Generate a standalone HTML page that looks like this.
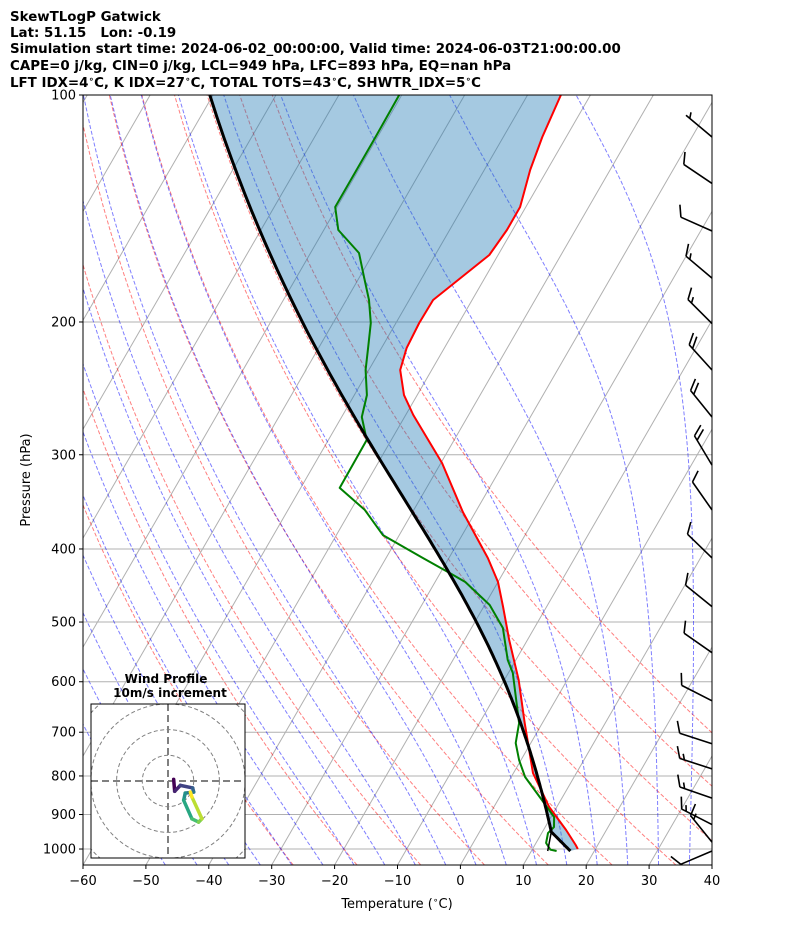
<!DOCTYPE html>
<html><head><meta charset="utf-8">
<style>
body{margin:0;background:#fff;}
svg{display:block;font-family:"DejaVu Sans","Liberation Sans",sans-serif;}
</style></head>
<body>
<svg id="chart" width="794" height="937" viewBox="0 0 794 937" xmlns="http://www.w3.org/2000/svg">
<defs><clipPath id="plotclip"><rect x="83" y="95" width="629" height="770"/></clipPath>
<clipPath id="hodoclip"><rect x="91" y="704" width="154" height="154"/></clipPath></defs>
<g font-weight="bold" font-size="13.4" fill="#000" style="white-space:pre">
<text x="10" y="21">SkewTLogP Gatwick</text>
<text x="10" y="37" xml:space="preserve">Lat: 51.15   Lon: -0.19</text>
<text x="10" y="53">Simulation start time: 2024-06-02_00:00:00, Valid time: 2024-06-03T21:00:00.00</text>
<text x="10" y="70">CAPE=0 j/kg, CIN=0 j/kg, LCL=949 hPa, LFC=893 hPa, EQ=nan hPa</text>
<text x="10" y="87">LFT IDX=4<tspan dy="-5" font-size="9">∘</tspan><tspan dy="5">C, K IDX=27</tspan><tspan dy="-5" font-size="9">∘</tspan><tspan dy="5">C, TOTAL TOTS=43</tspan><tspan dy="-5" font-size="9">∘</tspan><tspan dy="5">C, SHWTR_IDX=5</tspan><tspan dy="-5" font-size="9">∘</tspan><tspan dy="5">C</tspan></text>
</g>
<g id="bg" clip-path="url(#plotclip)"></g>
<g id="profiles" clip-path="url(#plotclip)"></g>
<g id="barbs"></g>
<rect x="83" y="95" width="629" height="770" fill="none" stroke="#000" stroke-width="1"/>
<g id="axes"></g>
<text x="397" y="908" font-size="13" text-anchor="middle">Temperature (<tspan dy="-5" font-size="9">∘</tspan><tspan dy="5">C)</tspan></text>
<text transform="translate(30,480) rotate(-90)" font-size="13" text-anchor="middle">Pressure (hPa)</text>
<g id="hodo"></g>
</svg>
<script>
// ---- data ----
const tempP=[100,113.7,125.7,140.8,151,163,187,200.6,216.6,231.6,250,265.7,307.7,357.4,411.3,442.4,477.5,528.2,597,680.7,793,879.7,943.6,987.9,1000];
const tempT=[-54.7,-53.8,-52.7,-50.9,-50.9,-51.4,-56.2,-56.3,-56,-55,-52.1,-48.8,-39.8,-32,-23.8,-20,-16.9,-12.9,-7.7,-2.8,3.1,8.8,13.6,16.5,17.2];
const dewP=[100,114.7,140.8,151,162,174.3,187,200.6,215.9,231.6,250,267.3,286.8,332,355,383.4,411.3,430.5,442.4,474.7,509.2,561.3,584.1,680.7,723.5,762.1,802.5,861,907,935,952.4,981.8,1002,1006];
const dewT=[-80.4,-80.3,-80.3,-77.7,-72.3,-69.3,-66.4,-64,-62.2,-60.5,-58,-56.8,-53.9,-53.8,-47.8,-42.6,-34.1,-28.5,-25.2,-19.2,-15,-11.3,-9.3,-3.7,-2.4,-0.3,2.2,7,10.5,11.4,11,11.6,12.9,14];
const sfcP=1006, sfcT=16.2, sfcTd=12.6, lclP=949;
const barbP=[113.7,131,151.5,174.9,201,231.6,267.3,309.6,355,411,477,549,636,725,783,856,928,979,1006];
const barbDir=[310,304,294,310,315,318,321,329,325,314,309,305,297,288,288,289,297,321,247];
const barbSpd=[5,10,10,15,15,20,20,20,10,10,10,10,10,10,15,15,15,15,10];
const hodoU=[2.2,2.6,4.8,9.6,10.0,6.7,6.1,9.3,11.9,13.2,9.3,8.7];
const hodoV=[0.65,-4.0,-1.7,-2.7,-4.3,-4.7,-7.5,-14.7,-16.0,-14.7,-6.2,-4.3];
const xTicks=[-60,-50,-40,-30,-20,-10,0,10,20,30,40];
const yTicks=[100,200,300,400,500,600,700,800,900,1000];
const dryT0=[-30,-20,-10,0,10,20,30,40,50,60];
const moistT0=[-50,-45,-40,-35,-30,-25,-20,-15,-10,-5,0,5,10,15,20,25,30,35,40,45];
// ---- axes ----
const X0=83,X1=712,Y0=95,YB=865,PTOP=100,PBOT=1050,TMIN=-60,TMAX=40,SK=Math.tan(30*Math.PI/180);
const NS='http://www.w3.org/2000/svg';
function yP(p){return Y0+(YB-Y0)*Math.log10(p/PTOP)/Math.log10(PBOT/PTOP);}
function xT(T,p){return X0+(T-TMIN)*(X1-X0)/(TMAX-TMIN)+SK*(YB-yP(p));}
function mk(tag,attrs,parent){const e=document.createElementNS(NS,tag);for(const k in attrs)e.setAttribute(k,attrs[k]);parent.appendChild(e);return e;}
function pts(arrP,arrT){return arrP.map((p,i)=>xT(arrT[i],p).toFixed(1)+','+yP(p).toFixed(1)).join(' ');}
// thermo
const Rd=287.04,Cp=1005.7,Lv=2.501e6,EPS=0.622;
function es(Tk){const t=Tk-273.15;return 6.112*Math.exp(17.67*t/(t+243.5));}
function dTdp(p,T){const e=es(T);const rs=EPS*e/(p-e);return (Rd*T+Lv*rs)/(p*(Cp+Lv*Lv*rs*EPS/(Rd*T*T)));}
function moist(p0,T0c,p1,n){let T=T0c+273.15,p=p0;const h=(p1-p0)/n;const P=[p],Ts=[T0c];
 for(let i=0;i<n;i++){const k1=dTdp(p,T),k2=dTdp(p+h/2,T+h/2*k1),k3=dTdp(p+h/2,T+h/2*k2),k4=dTdp(p+h,T+h*k3);T+=h/6*(k1+2*k2+2*k3+k4);p+=h;P.push(p);Ts.push(T-273.15);}return [P,Ts];}
const bg=document.getElementById('bg');
yTicks.forEach(p=>{const l=mk('line',{x1:X0,x2:X1,y1:yP(p),y2:yP(p),stroke:'#b0b0b0','stroke-width':1},bg);

});
for(let T=-200;T<=40;T+=10){const l=mk('line',{x1:xT(T,PBOT),y1:YB,x2:xT(T,PTOP),y2:Y0,stroke:'#b0b0b0','stroke-width':1},bg);

}
dryT0.forEach(t0=>{const P=[],T=[];for(let p=PBOT;p>=PTOP-0.1;p-=10){P.push(p);T.push((t0+273.15)*Math.pow(p/1000,0.2857)-273.15);}
const l=mk('polyline',{points:pts(P,T),fill:'none',stroke:'rgba(255,0,0,0.5)','stroke-width':1,'stroke-dasharray':'4 2'},bg);

});
moistT0.forEach(t0=>{const up=moist(1000,t0,PTOP,90),dn=moist(1000,t0,PBOT,5);
const P=dn[0].slice().reverse().concat(up[0].slice(1)),T=dn[1].slice().reverse().concat(up[1].slice(1));
const l=mk('polyline',{points:pts(P,T),fill:'none',stroke:'rgba(0,0,255,0.5)','stroke-width':1,'stroke-dasharray':'4 2'},bg);

});
// parcel
const th=(sfcT+273.15)*Math.pow(1000/sfcP,0.2857);
const parP=[],parT=[];
for(let p=sfcP;p>lclP;p-=5){parP.push(p);parT.push(th*Math.pow(p/1000,0.2857)-273.15);}
const lclT=th*Math.pow(lclP/1000,0.2857)-273.15;
const mu=moist(lclP,lclT,PTOP,120);mu[0].forEach((p,i)=>{parP.push(p);parT.push(mu[1][i]);});
const prof=document.getElementById('profiles');
const fillPts=pts(parP,parT)+' '+pts(tempP,tempT);
const f=mk('polygon',{points:fillPts,fill:'#1f77b4','fill-opacity':0.4,stroke:'none'},prof);


const tl=mk('polyline',{points:pts(tempP,tempT),fill:'none',stroke:'#ff0000','stroke-width':2,'stroke-linejoin':'round'},prof);


const dl=mk('polyline',{points:pts(dewP,dewT),fill:'none',stroke:'#008000','stroke-width':2,'stroke-linejoin':'round'},prof);


const ml=mk('polyline',{points:pts([sfcP,lclP],[sfcTd,lclT]),fill:'none',stroke:'#000','stroke-width':1.5},prof);


const pl=mk('polyline',{points:pts(parP,parT),fill:'none',stroke:'#000','stroke-width':3,'stroke-linejoin':'round'},prof);


// barbs
const bgp=document.getElementById('barbs');
barbP.forEach((p,i)=>{const d=barbDir[i]*Math.PI/180,L=34;const ux=Math.sin(d),uy=-Math.cos(d);const px=-uy,py=ux;
 const bx=X1,by=yP(p),tx=bx+ux*L,ty=by+uy*L;let dpath='M'+bx+' '+by.toFixed(1)+'L'+tx.toFixed(1)+' '+ty.toFixed(1);
 let s=barbSpd[i],pos=0;const full=Math.floor(s/10),half=(s%10)>=5?1:0;
 if(full===0&&half)pos=5;
 for(let k=0;k<full;k++){const ax=tx-ux*pos,ay=ty-uy*pos;dpath+='M'+ax.toFixed(1)+' '+ay.toFixed(1)+'l'+(px*11+ux*6).toFixed(1)+' '+(py*11+uy*6).toFixed(1);pos+=5;}
 if(half){const ax=tx-ux*pos,ay=ty-uy*pos;dpath+='M'+ax.toFixed(1)+' '+ay.toFixed(1)+'l'+(px*5.5+ux*3).toFixed(1)+' '+(py*5.5+uy*3).toFixed(1);}
 const b=mk('path',{d:dpath,fill:'none',stroke:'#000','stroke-width':1.6},bgp);
 
 });
// axes ticks
const ax=document.getElementById('axes');
yTicks.forEach(p=>{mk('line',{x1:X0-4,x2:X0,y1:yP(p),y2:yP(p),stroke:'#000'},ax);
 const t=mk('text',{x:X0-7,y:yP(p)+4.5,'font-size':13,'text-anchor':'end'},ax);t.textContent=p;
 
 });
xTicks.forEach(T=>{const x=X0+(T-TMIN)*(X1-X0)/(TMAX-TMIN);mk('line',{x1:x,x2:x,y1:YB,y2:YB+4,stroke:'#000'},ax);
 const t=mk('text',{x:x,y:YB+20,'font-size':13,'text-anchor':'middle'},ax);t.textContent=String(T).replace('-','\u2212');
 
 });
// hodograph
const hg=document.getElementById('hodo');const HX=168,HY=781,HS=2.57;
mk('rect',{x:91,y:704,width:154,height:154,fill:'#fff',stroke:'none'},hg);
const hc=mk('g',{'clip-path':'url(#hodoclip)'},hg);
[10,20,30,40].forEach(r=>{mk('circle',{cx:HX,cy:HY,r:r*HS,fill:'none',stroke:'#808080','stroke-width':1,'stroke-dasharray':'4 2.5'},hc);});
mk('line',{x1:91,x2:245,y1:HY,y2:HY,stroke:'#808080','stroke-width':2,'stroke-dasharray':'7 4'},hc);
mk('line',{x1:HX,x2:HX,y1:704,y2:858,stroke:'#808080','stroke-width':2,'stroke-dasharray':'7 4'},hc);
const vir=['#440154','#46327e','#365c8d','#277f8e','#1fa187','#4ac16d','#a0da39','#fde725'];
function vc(t){const i=t*(vir.length-1),a=Math.floor(i),b=Math.min(a+1,vir.length-1),f=i-a;const h=c=>[1,3,5].map(k=>parseInt(c.substr(k,2),16));const A=h(vir[a]),B=h(vir[b]);return 'rgb('+A.map((v,k)=>Math.round(v+(B[k]-v)*f)).join(',')+')';}
for(let i=0;i<hodoU.length-1;i++){const s=mk('line',{x1:HX+hodoU[i]*HS,y1:HY-hodoV[i]*HS,x2:HX+hodoU[i+1]*HS,y2:HY-hodoV[i+1]*HS,stroke:vc(i/(hodoU.length-2)),'stroke-width':3.5,'stroke-linecap':'round'},hc);
 
 }
const fr=mk('rect',{x:91,y:704,width:154,height:154,fill:'none',stroke:'#000','stroke-width':1},hg);


const h1=mk('text',{x:166,y:683,'font-size':12,'font-weight':'bold','text-anchor':'middle'},hg);h1.textContent='Wind Profile';


const h2=mk('text',{x:170,y:697,'font-size':12,'font-weight':'bold','text-anchor':'middle'},hg);h2.textContent='10m/s increment';


</script>
</body></html>
